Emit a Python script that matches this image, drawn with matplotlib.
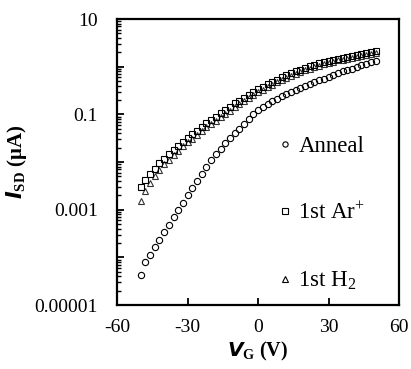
import matplotlib
matplotlib.use("Agg")
import matplotlib.pyplot as plt
import numpy as np
from matplotlib.ticker import FixedLocator, FixedFormatter, LogLocator, NullFormatter
from matplotlib.lines import Line2D

plt.rcParams['font.family'] = ['Liberation Serif', 'DejaVu Serif']
plt.rcParams['mathtext.fontset'] = 'custom'
plt.rcParams['mathtext.rm'] = 'Liberation Serif'
plt.rcParams['mathtext.it'] = 'Liberation Serif:italic'
plt.rcParams['mathtext.bf'] = 'Liberation Serif:bold'

vg = [-50, -48, -46, -44, -42, -40, -38, -36, -34, -32, -30, -28, -26, -24, -22, -20,
      -18, -16, -14, -12, -10, -8, -6, -4, -2, 0, 2, 4, 6, 8, 10, 12, 14, 16, 18, 20,
      22, 24, 26, 28, 30, 32, 34, 36, 38, 40, 42, 44, 46, 48, 50]

log_anneal = [-4.37, -4.10, -3.95, -3.79, -3.63, -3.47, -3.32, -3.16, -3.00, -2.85, -2.70,
              -2.55, -2.40, -2.25, -2.10, -1.96, -1.84, -1.72, -1.61, -1.50, -1.40,
              -1.30, -1.20, -1.10, -1.00, -0.91, -0.84, -0.78, -0.72, -0.67, -0.62,
              -0.57, -0.53, -0.49, -0.45, -0.41, -0.37, -0.33, -0.29, -0.25, -0.21,
              -0.17, -0.14, -0.10, -0.07, -0.04, -0.01, 0.03, 0.06, 0.09, 0.12]

log_ar = [-2.52, -2.38, -2.25, -2.14, -2.03, -1.93, -1.84, -1.75, -1.66, -1.58, -1.50,
          -1.42, -1.34, -1.27, -1.19, -1.12, -1.05, -0.98, -0.91, -0.84, -0.77,
          -0.71, -0.65, -0.59, -0.53, -0.47, -0.42, -0.37, -0.32, -0.27, -0.22,
          -0.18, -0.14, -0.10, -0.06, -0.03, 0.01, 0.04, 0.07, 0.10, 0.12,
          0.15, 0.17, 0.19, 0.21, 0.23, 0.25, 0.27, 0.29, 0.31, 0.33]

log_h2 = [-2.82, -2.60, -2.45, -2.30, -2.17, -2.05, -1.95, -1.85, -1.76, -1.67, -1.59,
          -1.51, -1.43, -1.35, -1.27, -1.20, -1.13, -1.06, -0.99, -0.92, -0.85,
          -0.78, -0.72, -0.66, -0.60, -0.54, -0.48, -0.43, -0.38, -0.33, -0.28,
          -0.24, -0.19, -0.15, -0.11, -0.08, -0.04, -0.01, 0.02, 0.05, 0.08,
          0.10, 0.13, 0.15, 0.17, 0.19, 0.21, 0.23, 0.25, 0.27, 0.29]

labels = ['Anneal', '1st Ar$^{+}$', '1st H$_{2}$']
xticks = [-60, -30, 0, 30, 60]
ytick_labels = ['0.00001', '', '0.001', '', '0.1', '', '10']

fig = plt.figure(figsize=(4.11, 3.69), dpi=100)
ax = fig.add_axes([0.285, 0.1734, 0.686, 0.7751])

ms = 4.2
mew = 0.8
ax.plot(vg, 10.0 ** np.array(log_h2), linestyle='none', marker='^', ms=ms + 0.4,
        mfc='none', mec='#333333', mew=mew)
ax.plot(vg, 10.0 ** np.array(log_ar), linestyle='none', marker='s', ms=ms,
        mfc='none', mec='black', mew=mew)
ax.plot(vg, 10.0 ** np.array(log_anneal), linestyle='none', marker='o', ms=ms + 0.3,
        mfc='none', mec='black', mew=mew)

ax.set_yscale('log')
ax.set_xlim(-60, 60)
ax.set_ylim(1e-5, 10)
ax.set_xticks(xticks)
ax.set_xticklabels([str(v) for v in xticks])

ax.yaxis.set_major_locator(FixedLocator([10.0 ** k for k in range(-5, 2)]))
ax.yaxis.set_major_formatter(FixedFormatter(ytick_labels))
ax.yaxis.set_minor_locator(LogLocator(base=10, subs=np.arange(2, 10), numticks=20))
ax.yaxis.set_minor_formatter(NullFormatter())

for s in ax.spines.values():
    s.set_linewidth(1.6)

ax.tick_params(axis='both', which='major', direction='in', length=5, width=1.3,
               labelsize=14)
ax.tick_params(axis='y', which='minor', direction='in', length=3, width=1.0)
ax.tick_params(axis='x', which='major', pad=10)
ax.tick_params(axis='y', which='major', pad=14)
ax.tick_params(top=False, right=False)

ax.set_xlabel(r'$\mathbfit{V}_{\mathbf{G}}$ $\mathbf{(V)}$', fontsize=14.5, labelpad=3)
ax.set_ylabel(r'$\mathbfit{I}_{\mathbf{SD}}$ $\mathbf{(\mu A)}$', fontsize=15, labelpad=4)

handles = [Line2D([], [], linestyle='none', marker='o', ms=3.8, mfc='none', mec='black', mew=0.8),
           Line2D([], [], linestyle='none', marker='s', ms=3.8, mfc='none', mec='black', mew=0.8),
           Line2D([], [], linestyle='none', marker='^', ms=3.8, mfc='none', mec='black', mew=0.8)]
leg = ax.legend(handles, labels, loc='upper left', bbox_to_anchor=(0.57, 0.59),
                frameon=False, fontsize=16.5, labelspacing=1.98, handlelength=0.6,
                handletextpad=0.3, borderaxespad=0, borderpad=0)

fig.savefig('out.png', dpi=100)
